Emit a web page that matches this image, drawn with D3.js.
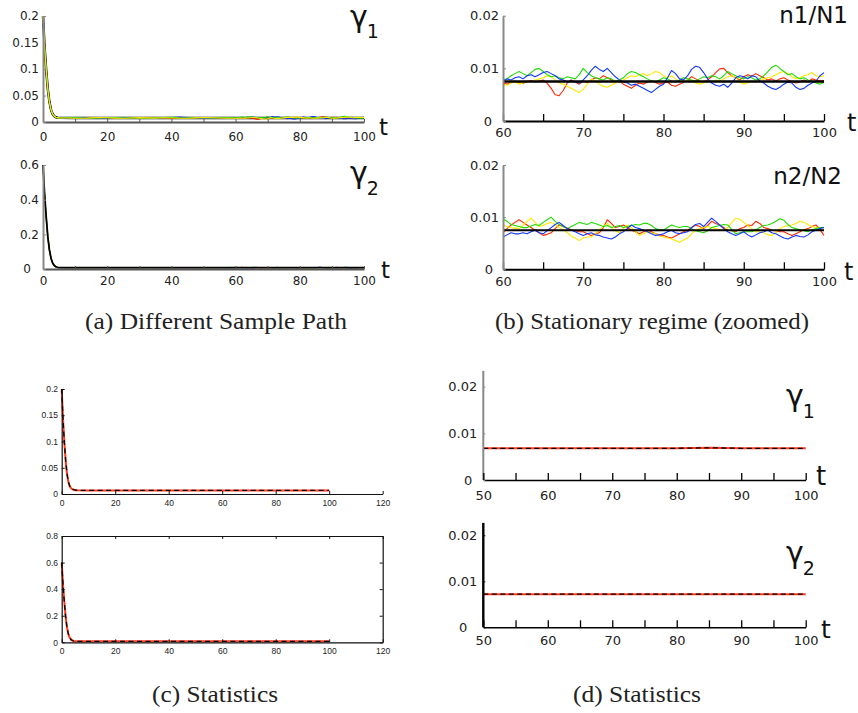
<!DOCTYPE html>
<html><head><meta charset="utf-8">
<script src="https://cdn.jsdelivr.net/npm/d3@7"></script>
<style>body{margin:0;background:#fff}svg{display:block}</style>
</head><body>
<script>
// All fractions below are stored in units of 1e-4.
const UNIT = 1e-4;

// Sample times
const headT  = d3.range(0, 5.01, 0.5);      // transient 0..5
const earlyT = d3.range(7.5, 57.51, 2.5);   // 7.5..57.5
const zoomT  = d3.range(60, 100.01, 0.5);   // stationary window 60..100
const meanT  = d3.range(10, 100.01, 5);     // ensemble mean samples
const statT  = d3.range(5, 100.01, 5);      // statistics samples

// Transient decay shared by the sample paths
const gamma1Head = [2000, 1420, 980, 620, 380, 230, 150, 110, 90, 82, 78];
const gamma2Head = [6000, 4300, 3000, 1850, 1100, 620, 350, 200, 130, 100, 85];

// Sample paths of n1/N1, t = 7.5..57.5
const n1RedEarly    = [78,74,82,86,76,70,74,80,72,76,84,78,70,74,80,76,72,78,82,74,76];
const n1GreenEarly  = [80,84,76,72,78,86,82,76,80,74,70,78,84,88,80,76,82,86,78,80,84];
const n1BlueEarly   = [74,78,82,76,70,72,80,86,78,74,68,72,78,84,92,86,76,70,74,80,78];
const n1YellowEarly = [76,72,70,78,84,80,74,70,76,82,78,74,80,76,72,70,78,84,80,76,72];

// Sample paths of n1/N1, t = 60..100
const n1Red = [72,70,74,76,73,71,75,77,74,76, 78,72,62,50,48,58,72,78,74,70,
  76,73,78,82,80,86,82,78,74,76, 70,66,62,68,72,70,74,76,73,70,
  72,74,68,66,70,73,78,84,80,76, 74,78,84,92,99,100,92,86,82,78,
  84,88,85,90,86,82,78,80,76,80, 82,78,75,72,74,78,74,80,78,76, 77];
const n1Green = [78,80,86,90,94,90,86,92,98,100, 94,88,84,86,82,80,84,82,80,88,
  100,92,86,82,80,78,82,80,76,78, 82,90,94,92,88,84,80,76,74,78,
  82,80,76,74,78,82,80,78,76,80, 84,82,86,84,80,86,94,90,86,82,
  80,84,82,78,80,86,94,102,106,100, 94,88,90,84,80,82,78,76,72,70, 74];
const n1Blue = [76,80,78,82,84,80,86,88,84,88, 92,94,90,86,80,78,74,76,74,72,
  78,86,96,104,98,94,100,92,84,78, 74,72,68,70,66,62,58,54,60,66,
  70,82,96,90,80,78,86,98,104,102, 92,80,72,68,66,70,64,72,82,86,
  84,80,86,84,76,72,66,62,60,64, 70,74,72,64,60,62,68,72,76,86, 92];
const n1Yellow = [70,68,72,74,70,72,76,74,78,80, 82,86,84,78,72,70,66,62,58,54,
  60,70,80,76,70,66,64,68,72,76, 78,82,86,84,88,90,86,90,94,92,
  86,82,86,80,76,74,78,76,72,70, 72,76,74,78,76,80,84,86,82,74,
  70,72,76,74,78,80,82,84,88,92, 94,90,84,80,82,86,88,92,86,84, 86];
const n1Mean = [75,75,75,75,75,75,75,75,75,75,75,75,75,75,75,75,75,75,75];

// Sample paths of n2/N2, t = 7.5..57.5
const n2RedEarly    = [76,80,72,70,78,82,76,72,74,80,84,78,72,70,76,80,74,72,78,82,76];
const n2GreenEarly  = [82,78,74,80,86,82,76,74,78,84,80,76,72,78,84,86,80,76,74,80,86];
const n2BlueEarly   = [70,74,78,72,68,74,80,76,70,66,72,78,82,76,70,72,76,80,74,70,66];
const n2YellowEarly = [78,82,76,70,74,80,84,78,72,76,70,74,80,82,76,72,78,74,70,76,82];

// Sample paths of n2/N2, t = 60..100
const n2Red = [70,78,85,90,95,90,85,80,75,70, 65,67,70,78,85,82,79,76,74,72,
  72,68,65,68,70,80,95,88,80,82, 85,80,75,72,68,72,75,72,68,66,
  65,62,60,64,68,72,75,80,85,82, 78,84,92,88,85,80,75,74,72,78,
  80,85,84,92,88,80,78,75,74,72, 72,68,65,68,72,76,78,82,85,76, 65];
const n2Green = [97,92,86,84,82,80,80,83,86,84, 90,95,100,92,86,82,78,82,86,90,
  88,86,90,88,85,82,84,80,82,84, 80,82,84,86,85,88,88,84,78,76,
  75,80,85,82,80,82,82,78,74,72, 70,74,80,82,84,86,85,76,68,70,
  72,72,72,76,80,84,85,88,92,97, 94,86,80,78,76,74,72,76,78,80, 80];
const n2Blue = [62,66,70,68,68,70,68,72,75,70, 68,74,80,86,90,84,78,75,72,68,
  65,68,70,66,65,62,60,58,62,68, 72,78,85,80,78,75,72,68,65,66,
  68,72,75,70,68,70,72,80,86,88, 82,90,98,92,85,78,72,68,65,68,
  72,66,62,66,70,72,75,70,68,64, 60,58,62,65,63,62,66,72,75,78, 80];
const n2Yellow = [85,82,80,79,78,84,92,98,90,82, 84,88,90,86,80,76,70,64,60,55,
  60,62,62,68,75,82,88,80,74,70, 78,85,80,72,65,68,72,70,68,64,
  62,60,58,55,52,56,60,68,75,78, 80,82,80,78,76,75,80,90,98,96,
  90,84,78,72,72,70,66,65,70,78, 82,84,85,88,92,90,86,82,80,78, 80];
const n2Mean = [75,75,75,75,75,75,75,75,75,75,75,75,75,75,75,75,75,75,75];

// Statistics of gamma1 / gamma2, t = 5..100
const g1Stat = [72,69,68,68,68,68,68,68,68,68,68,68,68,68,68,68,69,68,68,68];
const g2Stat = [76,72,72,72,72,72,72,72,72,72,72,72,72,72,72,72,72,72,72,72];

// Axis ticks and labels
const aXTicks = d3.range(0, 100.01, 10), aXLabels = [0, 20, 40, 60, 80, 100];
const a1YTicks = [0, 0.05, 0.1, 0.15, 0.2];
const a2YTicks = [0, 0.2, 0.4, 0.6];
const bXTicks = d3.range(60, 100.01, 5), bXLabels = [60, 70, 80, 90, 100];
const bYTicks = [0, 0.01, 0.02];
const cXTicks = [0, 20, 40, 60, 80, 100, 120];
const c1YTicks = [0, 0.05, 0.1, 0.15, 0.2];
const c2YTicks = [0, 0.2, 0.4, 0.6, 0.8];
const dXTicks = d3.range(50, 100.01, 5), dXLabels = [50, 60, 70, 80, 90, 100];
const dYTicks = [0, 0.01, 0.02];

const captions = ["(a) Different Sample Path", "(b) Stationary regime (zoomed)", "(c) Statistics", "(d) Statistics"];

const COL = {red: "#ff2a00", green: "#1fdc00", blue: "#1238ff", yellow: "#ffe800"};
const SANS = "DejaVu Sans, Verdana, sans-serif";
const HELV = "Liberation Sans, Arial, sans-serif";

const svg = d3.select("body").append("svg").attr("width", 858).attr("height", 713);

const pts = (ts, vs) => ts.map((t, i) => ({t, v: vs[i] * UNIT}));
const concat = (...parts) => [].concat(...parts);

function panel(xd, xr, yd, yr) {
  const x = d3.scaleLinear().domain(xd).range(xr);
  const y = d3.scaleLinear().domain(yd).range(yr);
  const g = svg.append("g");
  const line = d3.line().x(d => x(d.t)).y(d => y(d.v));
  return {x, y, g, line};
}

function styleAxis(s, o) {
  s.attr("font-family", o.font).attr("font-size", o.fs);
  s.select(".domain").attr("stroke", o.dom).attr("stroke-width", o.dw);
  s.selectAll(".tick line").attr("stroke", o.dom).attr("stroke-width", o.tw || 1);
  s.selectAll(".tick text").attr("fill", o.fill || "#222");
}

function xAxis(p, o) {
  const ax = d3.axisBottom(p.x).tickValues(o.ticks).tickSize(-o.len).tickSizeOuter(0)
    .tickPadding(o.pad).tickFormat(d => (o.labels || o.ticks).includes(d) ? String(d) : "");
  const s = p.g.append("g").attr("transform", `translate(0,${p.y(p.y.domain()[0])})`).call(ax);
  styleAxis(s, o);
  return s;
}

function yAxis(p, o) {
  const ax = d3.axisLeft(p.y).tickValues(o.ticks).tickSize(-o.len).tickSizeOuter(0)
    .tickPadding(o.pad).tickFormat(d => String(d));
  const s = p.g.append("g").attr("transform", `translate(${p.x(p.x.domain()[0])},0)`).call(ax);
  styleAxis(s, o);
  // the zero label sits a little left of the others
  if (o.zeroShift) s.selectAll(".tick text").filter(d => d === 0).attr("dx", -o.zeroShift);
  return s;
}

function path(p, data, color, w, dash) {
  const el = p.g.append("path").datum(data).attr("d", p.line)
    .attr("fill", "none").attr("stroke", color).attr("stroke-width", w)
    .attr("stroke-linejoin", "round");
  if (dash) el.attr("stroke-dasharray", dash);
  return el;
}

function label(g, x, y, txt, fs, anchor) {
  return g.append("text").attr("x", x).attr("y", y).attr("font-family", SANS)
    .attr("font-size", fs).attr("fill", "#111").attr("text-anchor", anchor || "start").text(txt);
}

function gammaLabel(g, x, y, sub, dy) {
  const t = g.append("text").attr("x", x).attr("y", y).attr("font-family", SANS)
    .attr("font-size", 30).attr("fill", "#111").text("γ");
  t.append("tspan").attr("font-size", 19).attr("dx", -1).attr("dy", dy).text(sub);
}

// ---------- (a) sample paths ----------
function samplePaths(p, head, early, zoom, mean, blackOnTop, blackW) {
  const series = ["red", "blue", "green", "yellow"].map(c => ({
    c, data: concat(pts(headT, head), pts(earlyT, early[c]), pts(zoomT, zoom[c]))
  }));
  const meanLine = concat(pts(headT, head), pts(meanT, mean));
  if (!blackOnTop) path(p, meanLine, "#000", blackW);
  series.forEach(s => path(p, s.data, COL[s.c], 1.1));
  if (blackOnTop) path(p, meanLine, "#000", blackW);
}

const a1 = panel([0, 100], [43, 364], [0, 0.2], [122, 16]);
samplePaths(a1, gamma1Head,
  {red: n1RedEarly, green: n1GreenEarly, blue: n1BlueEarly, yellow: n1YellowEarly},
  {red: n1Red, green: n1Green, blue: n1Blue, yellow: n1Yellow}, n1Mean, false, 2.4);
xAxis(a1, {ticks: aXTicks, labels: aXLabels, len: 3, pad: 10.5, font: SANS, fs: 12, dom: "#555", dw: 2});
yAxis(a1, {ticks: a1YTicks, len: 3, pad: 4, font: SANS, fs: 12, dom: "#888", dw: 2});
gammaLabel(a1.g, 350, 27, "1", 11);
label(a1.g, 379, 135, "t", 23);

const a2 = panel([0, 100], [43, 364], [0, 0.6], [269, 165]);
samplePaths(a2, gamma2Head,
  {red: n2RedEarly, green: n2GreenEarly, blue: n2BlueEarly, yellow: n2YellowEarly},
  {red: n2Red, green: n2Green, blue: n2Blue, yellow: n2Yellow}, n2Mean, true, 1.8);
xAxis(a2, {ticks: aXTicks, labels: aXLabels, len: 3, pad: 7.5, font: SANS, fs: 12, dom: "#555", dw: 2});
yAxis(a2, {ticks: a2YTicks, len: 3, pad: 4, font: SANS, fs: 12, dom: "#888", dw: 2, zeroShift: 8});
gammaLabel(a2.g, 350, 183, "2", 12);
label(a2.g, 381, 278, "t", 23);

// ---------- (b) stationary regime ----------
function zoomPanel(p, zoom, mean, meanW) {
  ["red", "yellow", "green", "blue"].forEach(c => path(p, pts(zoomT, zoom[c]), COL[c], 1.1));
  const m = pts(meanT, mean).filter(d => d.t >= 60);
  path(p, m, "#000", meanW);
}

const b1 = panel([60, 100], [503, 824], [0, 0.02], [121, 15.7]);
zoomPanel(b1, {red: n1Red, green: n1Green, blue: n1Blue, yellow: n1Yellow}, n1Mean, 2.6);
xAxis(b1, {ticks: bXTicks, labels: bXLabels, len: 7, pad: 6.8, font: SANS, fs: 13, dom: "#000", dw: 2, tw: 1.3});
yAxis(b1, {ticks: bYTicks, len: 3, pad: 4, font: SANS, fs: 13, dom: "#888", dw: 2, zeroShift: 7});
label(b1.g, 848, 23, "n1/N1", 23, "end");
label(b1.g, 847, 131, "t", 24);

const b2 = panel([60, 100], [503, 824], [0, 0.02], [269.3, 165]);
zoomPanel(b2, {red: n2Red, green: n2Green, blue: n2Blue, yellow: n2Yellow}, n2Mean, 2);
xAxis(b2, {ticks: bXTicks, labels: bXLabels, len: 7, pad: 7.5, font: SANS, fs: 13, dom: "#000", dw: 2, tw: 1.3});
yAxis(b2, {ticks: bYTicks, len: 3, pad: 4, font: SANS, fs: 13, dom: "#888", dw: 2, zeroShift: 6});
label(b2.g, 842, 184, "n2/N2", 23, "end");
label(b2.g, 844, 280, "t", 24);

// ---------- (c) statistics, full horizon ----------
function statCurve(p, head, stat, from) {
  const d = concat(from > 0 ? [] : pts(headT, head), pts(statT, stat)).filter(q => q.t >= from);
  path(p, d, "#ff3a1c", 2);
  path(p, d, "#000", 1.3, "5,3.5");
}

const c1 = panel([0, 120], [61.7, 382.7], [0, 0.2], [494, 389]);
statCurve(c1, gamma1Head, g1Stat, 0);
xAxis(c1, {ticks: cXTicks, len: 3, pad: 6, font: HELV, fs: 8.5, dom: "#111", dw: 1.2});
yAxis(c1, {ticks: c1YTicks, len: 3, pad: 3.7, font: HELV, fs: 8.5, dom: "#111", dw: 1.2});

const c2 = panel([0, 120], [61.7, 382.7], [0, 0.8], [642.3, 536]);
statCurve(c2, gamma2Head, g2Stat, 0);
xAxis(c2, {ticks: cXTicks, len: 3, pad: 5.7, font: HELV, fs: 8.5, dom: "#111", dw: 1.2});
yAxis(c2, {ticks: c2YTicks, len: 3, pad: 3.7, font: HELV, fs: 8.5, dom: "#111", dw: 1.2});
// box frame: top and right axes without labels
styleAxis(c2.g.append("g").attr("transform", `translate(0,${c2.y(0.8)})`)
  .call(d3.axisTop(c2.x).tickValues(cXTicks).tickSize(-3).tickSizeOuter(0).tickFormat("")),
  {font: HELV, fs: 8.5, dom: "#111", dw: 1.2});
styleAxis(c2.g.append("g").attr("transform", `translate(${c2.x(120)},0)`)
  .call(d3.axisRight(c2.y).tickValues(c2YTicks).tickSize(-3).tickSizeOuter(0).tickFormat("")),
  {font: HELV, fs: 8.5, dom: "#111", dw: 1.2});

// ---------- (d) statistics, stationary window ----------
function dPanel(p, stat, yTop, axisColor, axisW, pad, zeroShift) {
  statCurve(p, null, stat, 50);
  p.g.append("line").attr("x1", p.x(50)).attr("x2", p.x(50))
    .attr("y1", p.y(0)).attr("y2", p.y(yTop)).attr("stroke", axisColor).attr("stroke-width", axisW);
  xAxis(p, {ticks: dXTicks, labels: dXLabels, len: 7, pad: pad, font: SANS, fs: 13, dom: "#000", dw: 1.6, tw: 1.3});
  yAxis(p, {ticks: dYTicks, len: 2, pad: 6, font: SANS, fs: 13, dom: axisColor, dw: 0, zeroShift});
}

const d1 = panel([50, 100], [483.3, 805.7], [0, 0.02], [480, 386.7]);
dPanel(d1, g1Stat, 0.0234, "#888", 2, 10.8, 5);
gammaLabel(d1.g, 786, 406, "1", 12);
label(d1.g, 816, 485, "t", 26);

const d2 = panel([50, 100], [483.3, 805.7], [0, 0.02], [627.3, 535.3]);
dPanel(d2, g2Stat, 0.0227, "#000", 2.4, 8.5, 10);
gammaLabel(d2.g, 786, 563, "2", 12);
label(d2.g, 821, 638, "t", 25);

// ---------- captions ----------
const capPos = [[216, 329, 262], [652, 329, 314], [215, 702, 126], [637, 702, 128]];
captions.forEach((c, i) => {
  svg.append("text").attr("x", capPos[i][0]).attr("y", capPos[i][1])
    .attr("style", "font-family:'Liberation Serif','DejaVu Serif','Times New Roman',Times,serif")
    .attr("text-anchor", "middle").attr("font-size", 22.5).attr("fill", "#222")
    .attr("textLength", capPos[i][2]).attr("lengthAdjust", "spacingAndGlyphs").text(c);
});
</script>
</body></html>
